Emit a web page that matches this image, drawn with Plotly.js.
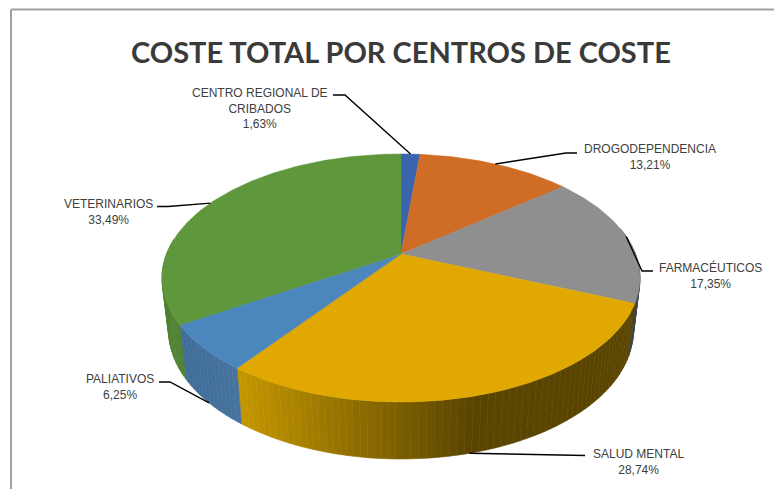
<!DOCTYPE html>
<html><head><meta charset="utf-8">
<script src="https://cdn.plot.ly/plotly-3.0.1.min.js"></script>
<style>html,body{margin:0;padding:0;background:#fff}#c{width:774px;height:489px}</style>
</head><body><div id="c"></div>
<script>
// Data
var categories = ["CENTRO REGIONAL DE<br>CRIBADOS","DROGODEPENDENCIA","FARMACÉUTICOS","SALUD MENTAL","PALIATIVOS","VETERINARIOS"];
var values = [1.63,13.21,17.35,28.74,6.25,33.49];
var valueLabels = ["1,63%","13,21%","17,35%","28,74%","6,25%","33,49%"];
var topColors = ["#3a64ad","#cf6d27","#8f8f8f","#e0a800","#4b86bc","#5f983c"];
var title = "COSTE TOTAL POR CENTROS DE COSTE";

// Projection of the tilted disc (top and bottom faces)
var topFace = {cx:401, cy:254, R:234.5, S:119.4, k:0.1935};
var botFace = {cx:401, cy:305.6, R:228, S:123.7, k:0.1935};
function proj(f, deg){
  var d = deg - 2.8*Math.abs(Math.sin(deg*Math.PI/180));
  var a = d*Math.PI/180, u = Math.sin(a), v = Math.cos(a), w = 1 + f.k*v;
  return [f.cx + f.R*u/w, f.cy - f.S*v/w];
}
var total = values.reduce(function(a,b){return a+b;},0);
var starts = [], ends = [], acc = 0;
values.forEach(function(v){ starts.push(acc/total*360); acc += v; ends.push(acc/total*360); });

function mix(a,b,t){ var r=[0,1,2].map(function(i){return Math.round(a[i]+(b[i]-a[i])*t);}); return "rgb("+r.join(",")+")"; }
function wallColor(i, x){
  if(i===3){ var t=Math.min(1,Math.max(0,(x-236)/(470-236))); return mix([198,152,0],[90,69,0],t); }
  if(i===4){ return mix([62,108,152],[70,116,158],Math.min(1,Math.max(0,(x-180)/60))); }
  if(i===5){ return "#4f8132"; }
  if(i===2){ return "#3d4450"; }
  return "#555";
}
var traces = [];
// Side wall, drawn as narrow strips through the same projection
values.forEach(function(v,i){
  var a0 = Math.max(starts[i],80), a1 = Math.min(ends[i],280);
  if(a1 <= a0) return;
  for(var a=a0; a<a1; a+=1.5){
    var b = Math.min(a+1.5,a1);
    var p0=proj(topFace,a), p1=proj(topFace,b), q1=proj(botFace,b), q0=proj(botFace,a);
    var c = wallColor(i,(p0[0]+p1[0]+q0[0]+q1[0])/4);
    traces.push({type:"scatter",mode:"lines",x:[p0[0],p1[0],q1[0],q0[0],p0[0]],y:[p0[1],p1[1],q1[1],q0[1],p0[1]],
      fill:"toself",fillcolor:c,line:{color:c,width:0.6},hoverinfo:"skip",showlegend:false});
  }
});
// Top face slices
values.forEach(function(v,i){
  var xs=[topFace.cx], ys=[topFace.cy];
  for(var a=starts[i]; a<ends[i]; a+=1){ var p=proj(topFace,a); xs.push(p[0]); ys.push(p[1]); }
  var e=proj(topFace,ends[i]); xs.push(e[0],topFace.cx); ys.push(e[1],topFace.cy);
  traces.push({type:"scatter",mode:"lines",x:xs,y:ys,fill:"toself",fillcolor:topColors[i],
    line:{color:topColors[i],width:0.5},name:categories[i],hoverinfo:"skip",showlegend:false});
});
// Leader lines: from slice midpoint to the label
var leaderFace = [topFace,topFace,topFace,botFace,botFace,topFace];
var elbowX = [345,566,642,570,170,168];
var elbowY = [95,153,271,455.5,382,206.5];
var endX   = [333,577,653,585,159,157];
values.forEach(function(v,i){
  var m = proj(leaderFace[i],(starts[i]+ends[i])/2);
  traces.push({type:"scatter",mode:"lines",x:[m[0],elbowX[i],endX[i]],y:[m[1],elbowY[i],elbowY[i]],
    line:{color:"#000",width:1.4},hoverinfo:"skip",showlegend:false});
});
var labelX = [260,650,710,638,120,108];
var labelY = [108,156.5,275,461.5,386.5,211.5];
var annotations = categories.map(function(c,i){
  return {x:labelX[i],y:labelY[i],xref:"x",yref:"y",text:c+"<br>"+valueLabels[i],showarrow:false,align:"center",
    xanchor:"center",yanchor:"middle",font:{family:"Liberation Sans",size:12,color:"#404040"}};
});
annotations.push({x:401,y:51,xref:"x",yref:"y",text:"<b>"+title+"</b>",showarrow:false,xanchor:"center",yanchor:"middle",
  font:{family:"Lato",size:29,color:"#3a3a3a"}});
var shapes = [
 {type:"line",xref:"paper",yref:"paper",x0:11/774,x1:1,y0:1-9.5/489,y1:1-9.5/489,line:{color:"#a0a0a0",width:2}},
 {type:"line",xref:"paper",yref:"paper",x0:11/774,x1:11/774,y0:1-9.5/489,y1:0,line:{color:"#a0a0a0",width:2}}
];
Plotly.newPlot("c",traces,{
  width:774,height:489,margin:{l:0,r:0,t:0,b:0},paper_bgcolor:"#fff",plot_bgcolor:"#fff",showlegend:false,
  xaxis:{range:[0,774],visible:false,fixedrange:true},
  yaxis:{range:[489,0],visible:false,fixedrange:true},
  annotations:annotations,shapes:shapes
},{displayModeBar:false,staticPlot:true});
</script></body></html>
